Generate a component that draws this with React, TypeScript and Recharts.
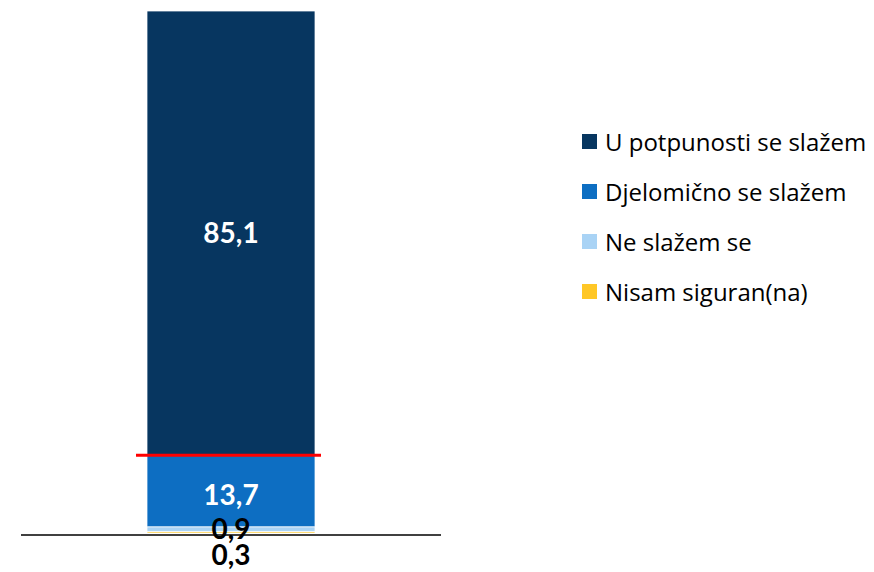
import { BarChart, Bar, XAxis, YAxis, LabelList, ReferenceLine } from 'recharts';

// Stacked from the bottom up
const categories = ['Ukupno'];
const seriesNames = ['Nisam siguran(na)', 'Ne slažem se', 'Djelomično se slažem', 'U potpunosti se slažem'];
const seriesValues = [0.3, 0.9, 13.7, 85.1];
const seriesColors = ['#FFC726', '#A9D3F5', '#0D6EC2', '#073660'];
const labelColors = ['#000000', '#000000', '#FFFFFF', '#FFFFFF'];

const keys = ['s0', 's1', 's2', 's3'];

const chartData = categories.map((name) => {
  const row: { [key: string]: string | number } = { name };
  keys.forEach((k, i) => {
    row[k] = seriesValues[i];
  });
  return row;
});

// boundary between the two "agree" groups
const redLineValue = seriesValues.slice(0, 3).reduce((a, b) => a + b, 0);

const fmt = (v: any) => Number(v).toFixed(1).replace('.', ',');

const LABEL_FONT = 'Lato, "Open Sans", sans-serif';
const LEGEND_FONT = '"Open Sans", Lato, sans-serif';

const RedLine = (props: any) => {
  const { x1, x2, y1 } = props;
  const center = (x1 + x2) / 2;
  return <line x1={center - 95} x2={center + 90} y1={y1} y2={y1} stroke="#FF0000" strokeWidth={3} />;
};

// base line sits a couple of pixels under the bars
const BaseLine = (props: any) => {
  const { x1, x2, y1 } = props;
  return <line x1={x1} x2={x2} y1={y1 + 2} y2={y1 + 2} stroke="#000" strokeWidth={1.5} />;
};

const LegendContent = () => {
  const order = [3, 2, 1, 0];
  return (
    <div style={{ fontFamily: LEGEND_FONT, fontSize: 24, color: '#000' }}>
      {order.map((i) => (
        <div key={i} style={{ display: 'flex', alignItems: 'center', height: 50 }}>
          <span
            style={{
              display: 'inline-block',
              width: 15,
              height: 15,
              background: seriesColors[i],
              marginRight: 8,
            }}
          />
          <span>{seriesNames[i]}</span>
        </div>
      ))}
    </div>
  );
};

export default function App() {
  return (
    <div style={{ position: 'absolute', left: 0, top: 0, width: 874, height: 572, background: '#fff' }}>
      <BarChart
        width={874}
        height={572}
        data={chartData}
        margin={{ top: 11, right: 433, bottom: 39, left: 21 }}
      >
        <XAxis dataKey="name" hide />
        <YAxis hide domain={[0, 100]} />
        {keys.map((k, i) => (
          <Bar
            key={k}
            dataKey={k}
            name={seriesNames[i]}
            stackId="a"
            fill={seriesColors[i]}
            stroke="#FFFFFF"
            strokeWidth={0.75}
            barSize={168}
            isAnimationActive={false}
          >
            <LabelList
              dataKey={k}
              position={i === 0 ? 'bottom' : 'center'}
              offset={i === 0 ? 12 : 5}
              formatter={fmt}
              fill={labelColors[i]}
              style={{ fontFamily: LABEL_FONT, fontWeight: 700, fontSize: 28 }}
              dy={i === 2 ? 4 : 0}
            />
          </Bar>
        ))}
        <ReferenceLine y={redLineValue} shape={RedLine} />
        <ReferenceLine y={0} shape={BaseLine} />
        <foreignObject x={582} y={116} width={292} height={210}>
          <LegendContent />
        </foreignObject>
      </BarChart>
    </div>
  );
}
